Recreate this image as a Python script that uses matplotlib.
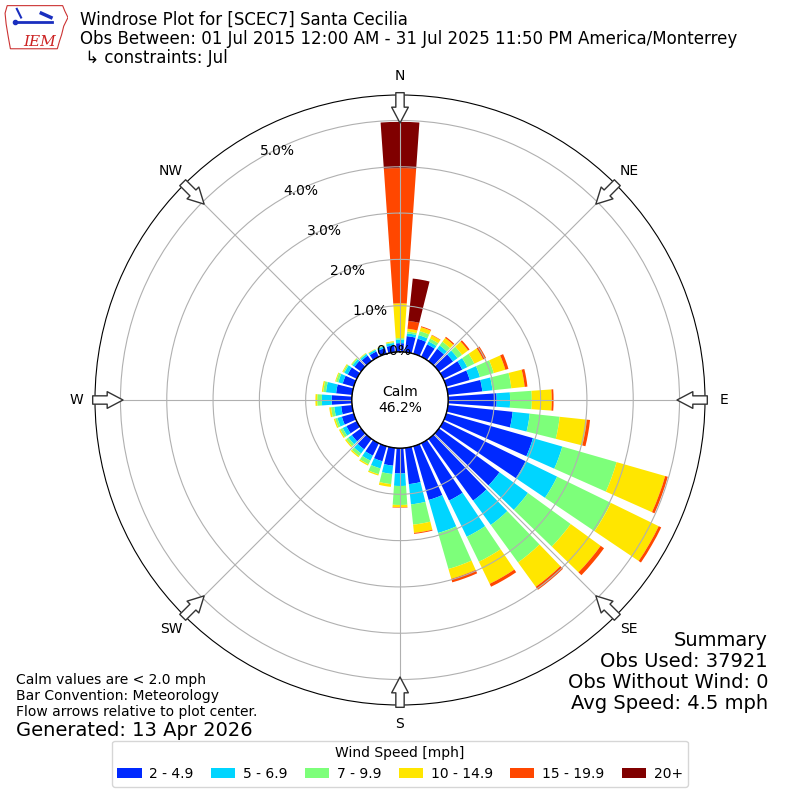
import numpy as np
import matplotlib
matplotlib.use("Agg")
import matplotlib.pyplot as plt
from matplotlib.patches import Polygon

# direction bins, degrees the wind blows from
directions = np.arange(0, 360, 10)

speed_labels = ["2 - 4.9", "5 - 6.9", "7 - 9.9", "10 - 14.9", "15 - 19.9", "20+"]

# percent of all obs, per direction and speed bin
pct_2_5 = [0.19, 0.35, 0.34, 0.30, 0.33, 0.38, 0.46, 0.53, 0.75, 1.05, 1.41, 1.95,
           1.98, 1.62, 1.65, 1.38, 1.21, 0.79, 0.55, 0.39, 0.34, 0.30, 0.28, 0.25,
           0.25, 0.27, 0.24, 0.44, 0.35, 0.25, 0.22, 0.18, 0.15, 0.13, 0.13, 0.15]
pct_5_7 = [0.08, 0.06, 0.08, 0.07, 0.09, 0.12, 0.12, 0.23, 0.22, 0.29, 0.37, 0.66,
           0.76, 0.76, 0.65, 0.87, 0.74, 0.44, 0.27, 0.18, 0.16, 0.12, 0.11, 0.09,
           0.09, 0.10, 0.15, 0.21, 0.22, 0.10, 0.08, 0.05, 0.04, 0.04, 0.04, 0.05]
pct_7_10 = [0.03, 0.04, 0.09, 0.07, 0.10, 0.12, 0.17, 0.31, 0.41, 0.47, 0.65, 1.22,
            1.29, 1.14, 1.00, 0.60, 0.81, 0.44, 0.41, 0.22, 0.13, 0.09, 0.07, 0.06,
            0.06, 0.05, 0.07, 0.10, 0.06, 0.05, 0.03, 0.03, 0.02, 0.01, 0.01, 0.02]
pct_10_15 = [0.75, 0.06, 0.09, 0.08, 0.10, 0.16, 0.21, 0.26, 0.29, 0.43, 0.59, 1.09,
             1.15, 0.80, 0.65, 0.53, 0.22, 0.18, 0.05, 0.06, 0.03, 0.03, 0.03, 0.03,
             0.03, 0.03, 0.04, 0.04, 0.03, 0.02, 0.02, 0.01, 0.01, 0.01, 0.01, 0.02]
pct_15_20 = [2.92, 0.17, 0.02, 0.01, 0.03, 0.04, 0.07, 0.07, 0.06, 0.04, 0.07, 0.06,
             0.06, 0.09, 0.08, 0.07, 0.08, 0.02, 0.01, 0.0, 0.0, 0.0, 0.0, 0.0,
             0.0, 0.0, 0.0, 0.0, 0.0, 0.0, 0.0, 0.0, 0.0, 0.0, 0.0, 0.0]
pct_20 = [1.00, 0.92, 0.0, 0.0, 0.0, 0.0, 0.0, 0.0, 0.0, 0.0, 0.0, 0.0,
          0.0, 0.0, 0.0, 0.0, 0.0, 0.0, 0.0, 0.0, 0.0, 0.0, 0.0, 0.0,
          0.0, 0.0, 0.0, 0.0, 0.0, 0.0, 0.0, 0.0, 0.0, 0.0, 0.0, 0.0]
speed_bins = [pct_2_5, pct_5_7, pct_7_10, pct_10_15, pct_15_20, pct_20]

calm_pct = 46.2
rings = [0, 1, 2, 3, 4, 5]
compass = ["N", "NE", "E", "SE", "S", "SW", "W", "NW"]

colors = plt.cm.jet(np.arange(1, 7) / 6.0)

fig = plt.figure(figsize=(8, 8), dpi=100)
ax = fig.add_axes([0.11875, 0.11875, 0.7625, 0.7625], projection="polar")
ax.set_theta_zero_location("N")
ax.set_theta_direction(-1)

theta = np.radians(directions)
bottom = np.zeros(len(directions))
for vals, label, color in zip(speed_bins, speed_labels, colors):
    ax.bar(theta, vals, width=np.radians(8), bottom=bottom, color=color,
           label=label, linewidth=0, align="center")
    bottom += np.array(vals)

# hole in the middle for calm
ax.set_rorigin(-1.037)
ax.set_ylim(0, 5.55)
ax.plot(np.linspace(0, 2 * np.pi, 361), np.zeros(361), color="k", lw=1.2, zorder=4)
ax.text(0.5, 0.5, "Calm\n%.1f%%" % calm_pct, transform=ax.transAxes,
        ha="center", va="center", fontsize=10, zorder=5)

ax.set_rgrids(rings, labels=["%.1f%%" % r for r in rings], angle=330, fontsize=10)
ax.set_thetagrids(np.arange(0, 360, 45), labels=compass, fontsize=10)
ax.tick_params(axis="x", pad=3)
ax.grid(True, color="#b0b0b0", lw=0.8)

# flow arrows pointing at the plot center
for d in np.arange(0, 360, 45):
    ax.annotate("", xy=(np.radians(d), 4.945), xytext=(np.radians(d), 5.6),
                arrowprops=dict(arrowstyle="simple,head_length=0.95,head_width=1.0,tail_width=0.5",
                                fc="white", ec="#333333", lw=1, shrinkA=0, shrinkB=0,
                                mutation_scale=12),
                annotation_clip=False, zorder=6)

fig.text(0.1, 0.986,
         "Windrose Plot for [SCEC7] Santa Cecilia\n"
         "Obs Between: 01 Jul 2015 12:00 AM - 31 Jul 2025 11:50 PM America/Monterrey\n"
         " \u21b3 constraints: Jul",
         fontsize=12, va="top", ha="left", linespacing=1.05)

fig.text(0.02, 0.159,
         "Calm values are < 2.0 mph\nBar Convention: Meteorology\nFlow arrows relative to plot center.",
         fontsize=10, va="top", ha="left")
fig.text(0.02, 0.0875, "Generated: 13 Apr 2026", fontsize=14, va="center", ha="left")

fig.text(0.96, 0.211, "Summary\nObs Used: 37921\nObs Without Wind: 0\nAvg Speed: 4.5 mph",
         fontsize=14, va="top", ha="right", multialignment="right", linespacing=1.13)

fig.legend(loc="lower center", bbox_to_anchor=(0.5, 0.008), ncol=6,
           title="Wind Speed [mph]", fontsize=10, title_fontsize=10,
           columnspacing=1.25, handletextpad=0.55, handlelength=1.75)

# rough IEM logo
lax = fig.add_axes([0.005, 0.935, 0.08, 0.062])
lax.set_xlim(0, 60)
lax.set_ylim(0, 46)
lax.axis("off")
lax.add_patch(Polygon([[3, 43], [55, 43], [57, 38], [60, 32], [56, 24], [54, 16], [52, 10],
                       [50, 3], [6, 3], [4, 14], [2, 26], [1, 36]],
                      closed=True, fc="white", ec="#cc3333", lw=0.8))
lax.plot([10, 45], [28, 28], color="#1a2fbf", lw=2)
lax.plot([12, 16], [40, 32], color="#1a2fbf", lw=1.5)
lax.plot([35, 44], [36, 32], color="#1a2fbf", lw=2.5)
lax.plot([10], [28], "o", color="#1a2fbf", ms=3)
lax.text(18, 6, "IEM", color="#cc2222", fontsize=11, family="serif", style="italic")

fig.savefig("out.png", dpi=100)
